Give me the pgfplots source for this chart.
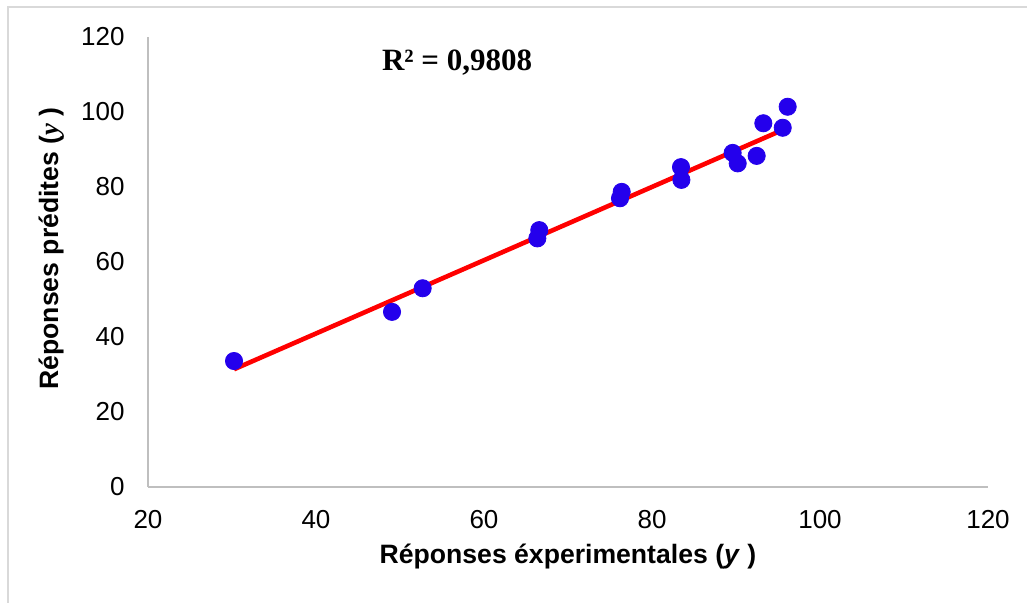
\documentclass[border=0pt]{standalone}
\usepackage{pgfplots}
\pgfplotsset{compat=1.18}
\usepackage{pgfplotstable}
\usepackage{fontspec}
\setmainfont{Liberation Sans}
\newfontfamily\timesfont{Liberation Serif}

\definecolor{ptblue}{RGB}{36,0,236}
\definecolor{axisgray}{RGB}{191,191,191}
\definecolor{framegray}{RGB}{217,217,217}

% experimental vs predicted responses
\pgfplotstableread{
x      y
30.24  33.6
49.05  46.7
52.70  53.0
66.35  66.3
66.58  68.5
76.19  77.0
76.39  78.7
83.45  85.3
83.50  81.9
89.60  89.1
90.20  86.3
92.46  88.3
93.25  97.0
95.56  95.8
96.15  101.4
}\responses

\begin{document}
\begin{tikzpicture}
\begin{axis}[
  name=ax,
  scale only axis,
  width=420pt, height=225pt,
  xmin=20, xmax=120, ymin=0, ymax=120,
  xtick={20,40,...,120}, ytick={0,20,...,120},
  axis x line*=bottom, axis y line*=left,
  axis line style={axisgray, line width=1pt, -},
  major tick length=0pt,
  tick style={draw=none},
  tick label style={font=\fontsize{13}{15}\selectfont, inner sep=0pt},
  /pgf/number format/assume math mode=true,
  xticklabel style={anchor=base, yshift=-20.5pt},
  yticklabel style={anchor=east, xshift=-11.5pt},
  label style={font=\fontsize{13.3}{16}\selectfont\bfseries, inner sep=0pt},
  xlabel={Réponses éxperimentales (\textit{y} )},
  xlabel style={at={(axis description cs:0.5,-0.1689)}, anchor=base},
  ylabel={Réponses prédites ({\timesfont\itshape y} )},
  ylabel style={at={(axis description cs:-0.1071,0.53)}, anchor=base, rotate=0},
  clip=false,
]
\addplot[only marks, mark=*, mark size=4.3pt, color=ptblue, fill=ptblue]
  table[x=x, y=y] {\responses};
\addplot[red, line width=2.3pt, no marks]
  coordinates {(30.24,31.4) (96.15,95.8)};
\node[font=\timesfont\bfseries\fontsize{15.5}{18}\selectfont]
  at (axis cs:56.8,113.3) {R² = 0,9808};
\end{axis}
\draw[framegray, line width=0.75pt]
  ([shift={(-70pt,-100pt)}]ax.south west) -- ++(0,340pt) -- ++(600pt,0);
\pgfresetboundingbox
\path[use as bounding box]
  ([shift={(-74pt,-57.5pt)}]ax.south west) rectangle ++(513.5pt,301pt);
\end{tikzpicture}
\end{document}
